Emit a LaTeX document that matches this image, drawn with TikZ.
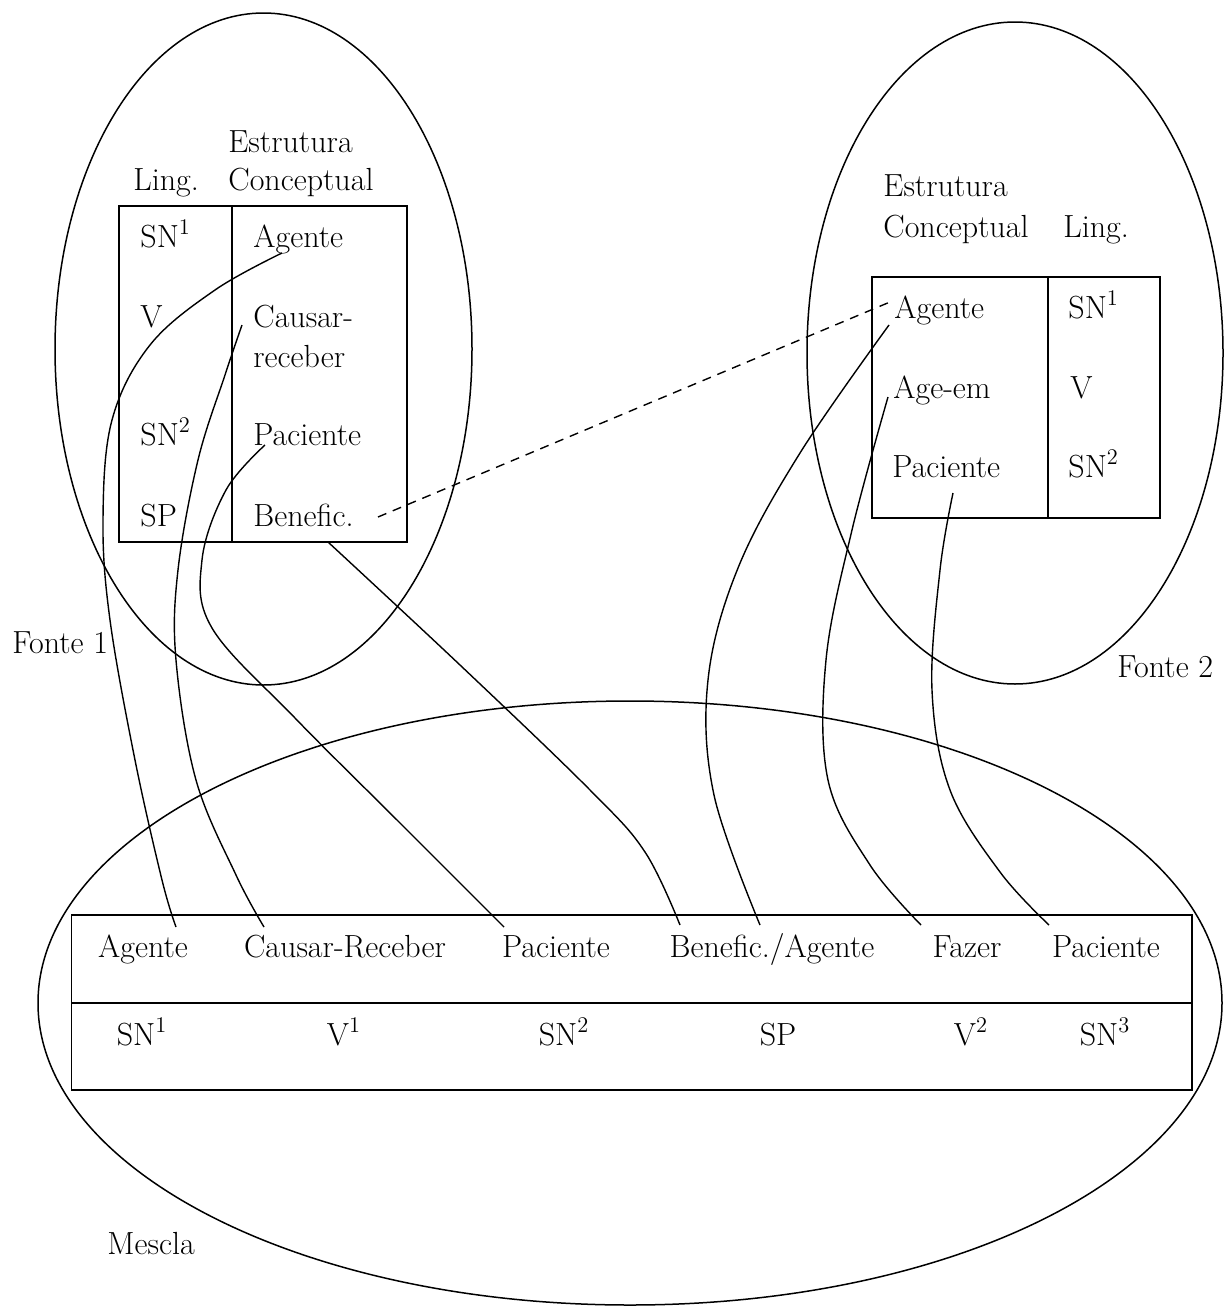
\documentclass[tikz,border=0pt]{standalone}
\usepackage{fontspec}
\begin{document}
\begin{tikzpicture}[x=0.5pt,y=-0.5pt,
  txt/.style={font=\fontsize{16}{19}\selectfont, inner sep=0pt, anchor=base west},
  ctxt/.style={font=\fontsize{16}{19}\selectfont, inner sep=0pt, anchor=base},
  frame/.style={line width=0.75pt},
  link/.style={line width=0.7pt},
  dlink/.style={line width=0.7pt, dash pattern=on 4.5pt off 3.5pt}]
\useasboundingbox (0,0) rectangle (1224,1306);

% ellipses
\draw[frame] (263.5,349) ellipse [x radius=104.25pt, y radius=168pt];
\draw[frame] (1015,353) ellipse [x radius=104pt, y radius=165.5pt];
\draw[frame] (630,1003) ellipse [x radius=296pt, y radius=151pt];

% left table
\draw[frame] (119,206) rectangle (407,542);
\draw[frame] (232,206) -- (232,542);
\node[txt] (estL) at (228,152) {Estrutura};
\node[txt] (concL) at (228,190) {Conceptual};
\node[txt] (lingL) at (133,190) {Ling.};
\node[txt] (sn1L) at (140,247) {SN\textsuperscript{1}};
\node[txt] (agL) at (253,247) {Agente};
\node[txt] (vL) at (140,327) {V};
\node[txt] (causL) at (253,327) {Causar-};
\node[txt] (recL) at (253,367) {receber};
\node[txt] (sn2L) at (140,445) {SN\textsuperscript{2}};
\node[txt] (pacL) at (253,445) {Paciente};
\node[txt] (spL) at (140,526) {SP};
\node[txt] (benL) at (253,526) {Benefic.};

% right table
\draw[frame] (872,277) rectangle (1160,518);
\draw[frame] (1048,277) -- (1048,518);
\node[txt] (estR) at (883,196) {Estrutura};
\node[txt] (concR) at (883,237) {Conceptual};
\node[txt] (lingR) at (1063,237) {Ling.};
\node[txt] (agR) at (894,318) {Agente};
\node[txt] (sn1R) at (1068,318) {SN\textsuperscript{1}};
\node[txt] (ageR) at (893,398) {Age-em};
\node[txt] (vR) at (1070,398) {V};
\node[txt] (pacR) at (892,477) {Paciente};
\node[txt] (sn2R) at (1068,477) {SN\textsuperscript{2}};

% bottom table
\draw[frame] (71.5,915) rectangle (1192,1090);
\draw[frame] (71.5,1003) -- (1192,1003);
\node[ctxt] (bAg) at (143,957) {Agente};
\node[ctxt] (bCa) at (345,957) {Causar-Receber};
\node[ctxt] (bPa) at (556,957) {Paciente};
\node[ctxt] (bBe) at (772,957) {Benefic./Agente};
\node[ctxt] (bFa) at (967,957) {Fazer};
\node[ctxt] (bPb) at (1106,957) {Paciente};
\node[ctxt] (bS1) at (142,1045) {SN\textsuperscript{1}};
\node[ctxt] (bV1) at (344,1045) {V\textsuperscript{1}};
\node[ctxt] (bS2) at (564,1045) {SN\textsuperscript{2}};
\node[ctxt] (bSP) at (778,1045) {SP};
\node[ctxt] (bV2) at (971,1045) {V\textsuperscript{2}};
\node[ctxt] (bS3) at (1105,1045) {SN\textsuperscript{3}};

% labels
\node[txt] (f1) at (12,653) {Fonte 1};
\node[txt] (f2) at (1117,677) {Fonte 2};
\node[txt] (mes) at (107,1254) {Mescla};

% connector endpoints
\coordinate (c1a) at (282,253); \coordinate (c1b) at (176,927);
\coordinate (c2a) at (242,325); \coordinate (c2b) at (264,927);
\coordinate (c3a) at (265,445); \coordinate (c3b) at (504,927);
\coordinate (c4a) at (328,542); \coordinate (c4b) at (680,925);
\coordinate (c5a) at (889,325); \coordinate (c5b) at (760,925);
\coordinate (c6a) at (888,397); \coordinate (c6b) at (921,925);
\coordinate (c7a) at (953,493); \coordinate (c7b) at (1049,925);
\coordinate (d1) at (378,517); \coordinate (d2) at (890,302);

% connectors
\draw[link] plot[smooth,tension=0.6] coordinates {(c1a) (215,290) (150,345) (112,420) (103,520) (110,620) (135,760) (162,880) (c1b)};
\draw[link] plot[smooth,tension=0.6] coordinates {(c2a) (225,375) (198,460) (178,570) (176,660) (196,780) (236,875) (c2b)};
\draw[link] plot[smooth,tension=0.6] coordinates {(c3a) (226,490) (202,560) (212,628) (295,718) (400,823) (c3b)};
\draw[link] plot[smooth,tension=0.6] coordinates {(c4a) (460,665) (590,790) (645,852) (c4b)};
\draw[link] plot[smooth,tension=0.6] coordinates {(c5a) (800,453) (738,568) (708,680) (714,795) (c5b)};
\draw[link] plot[smooth,tension=0.6] coordinates {(c6a) (852,530) (826,660) (828,780) (870,865) (c6b)};
\draw[link] plot[smooth,tension=0.6] coordinates {(c7a) (940,570) (932,690) (950,790) (1000,872) (c7b)};
\draw[dlink] (d1) -- (d2);
\end{tikzpicture}
\end{document}
